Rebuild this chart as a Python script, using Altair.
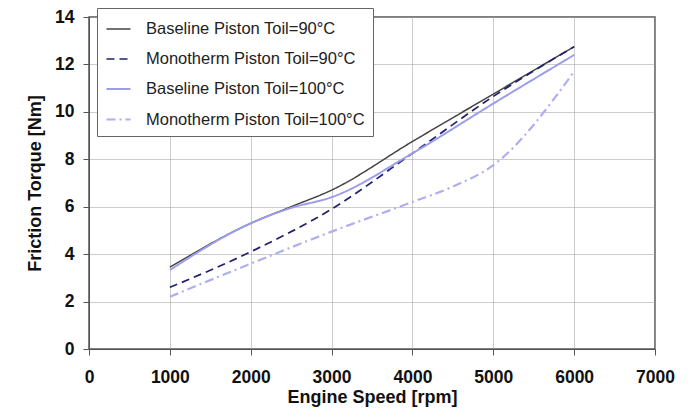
import altair as alt
import pandas as pd

series_names = [
    "Baseline Piston Toil=90°C",
    "Monotherm Piston Toil=90°C",
    "Baseline Piston Toil=100°C",
    "Monotherm Piston Toil=100°C",
]
rpm_b90 = [1000, 2000, 2500, 3000, 4000, 5000, 6000]
torque_b90 = [3.45, 5.3, 6.0, 6.7, 8.75, 10.75, 12.75]
rpm_m90 = [1000, 2000, 3000, 4000, 5000, 6000]
torque_m90 = [2.6, 4.1, 5.9, 8.25, 10.65, 12.75]
rpm_b100 = [1000, 2000, 2500, 3000, 4000, 5000, 6000]
torque_b100 = [3.33, 5.3, 5.95, 6.4, 8.25, 10.35, 12.4]
rpm_m100 = [1000, 2000, 3000, 4000, 4500, 5000, 6000]
torque_m100 = [2.2, 3.6, 4.95, 6.2, 6.85, 7.75, 11.7]

colors = ["#444444", "#22226e", "#9c9cec", "#aeaef0"]
dashes = [[1, 0], [8, 5], [1, 0], [9, 4, 2, 4]]
widths = [1.5, 2.2, 1.5, 1.6]

rows = []
for name, xs, ys in zip(series_names,
                        [rpm_b90, rpm_m90, rpm_b100, rpm_m100],
                        [torque_b90, torque_m90, torque_b100, torque_m100]):
    for x, y in zip(xs, ys):
        rows.append({"series": name, "rpm": x, "torque": y})
df = pd.DataFrame(rows)

font = "Liberation Sans"

chart = alt.Chart(df).mark_line(interpolate="monotone").encode(
    x=alt.X("rpm:Q", title="Engine Speed [rpm]",
            scale=alt.Scale(domain=[0, 7000], nice=False),
            axis=alt.Axis(values=[0, 1000, 2000, 3000, 4000, 5000, 6000, 7000],
                          format="d", labelFlush=False)),
    y=alt.Y("torque:Q", title="Friction Torque [Nm]",
            scale=alt.Scale(domain=[0, 14], nice=False),
            axis=alt.Axis(values=[0, 2, 4, 6, 8, 10, 12, 14], labelFlush=False)),
    color=alt.Color("series:N", sort=series_names, title=None,
                    scale=alt.Scale(domain=series_names, range=colors),
                    legend=alt.Legend(orient="none", legendX=8, legendY=-9,
                                      symbolType="stroke", symbolSize=576,
                                      symbolStrokeWidth=1.5,
                                      labelFont=font, labelFontSize=16.5,
                                      labelColor="#222222",
                                      rowPadding=8, padding=8,
                                      strokeColor="#666666", fillColor="white",
                                      labelLimit=400, labelOffset=14)),
    strokeDash=alt.StrokeDash("series:N", sort=series_names, title=None,
                              scale=alt.Scale(domain=series_names, range=dashes)),
    strokeWidth=alt.StrokeWidth("series:N", sort=series_names, legend=None,
                                scale=alt.Scale(domain=series_names, range=widths)),
).properties(
    width=566, height=332,
    autosize="none",
    padding={"left": 81, "top": 9, "right": 25, "bottom": 59},
).configure_view(
    stroke="#555555", strokeWidth=1.5
).configure_axis(
    labelFont=font, labelFontSize=17.5, labelFontWeight="bold", labelColor="#111111",
    titleFont=font, titleFontSize=18, titleFontWeight="bold", titleColor="#111111",
    gridColor="#999999", gridDash=[1, 1], gridWidth=1,
    domainColor="#555555", tickColor="#555555", tickSize=6,
).configure_axisX(
    labelPadding=13, titlePadding=3
).configure_axisY(
    labelPadding=9, titlePadding=10
)

chart.save("out.html", embed_options={"renderer": "svg", "actions": False})
